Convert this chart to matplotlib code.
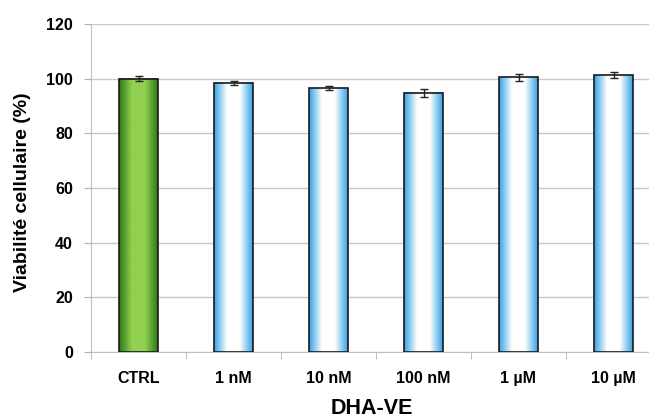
import numpy as np
import matplotlib
matplotlib.use("Agg")
import matplotlib.pyplot as plt
from matplotlib.colors import LinearSegmentedColormap

plt.rcParams['font.family'] = ['Liberation Sans', 'DejaVu Sans']

categories = ['CTRL', '1 nM', '10 nM', '100 nM', '1 µM', '10 µM']
viability = [100.0, 98.5, 96.5, 94.8, 100.5, 101.3]
errors = [0.8, 0.7, 0.7, 1.5, 1.2, 1.0]

green_cm = LinearSegmentedColormap.from_list('g', ['#2f7a17', '#92d050', '#92d050', '#2f7a17'])
blue_cm = LinearSegmentedColormap.from_list('b', ['#35a4e6', '#ffffff', '#ffffff', '#35a4e6'])

fig = plt.figure(figsize=(6.49, 4.18), dpi=100)
ax = fig.add_axes([91/649, 1 - 352/418, 570/649, 328/418])

x = np.arange(len(categories))
w = 0.41
grad = np.linspace(0, 1, 64).reshape(1, -1)
for i, (xi, v) in enumerate(zip(x, viability)):
    cm = green_cm if i == 0 else blue_cm
    ax.imshow(grad, cmap=cm, aspect='auto', extent=(xi - w/2, xi + w/2, 0, v),
              zorder=2, interpolation='bicubic')
    ax.add_patch(plt.Rectangle((xi - w/2, 0), w, v, fill=False,
                               edgecolor='#1a1a1a', lw=1.2, zorder=3))

ax.errorbar(x, viability, yerr=errors, fmt='none', ecolor='#222222',
            elinewidth=1, capsize=3, capthick=1, zorder=4)

ax.set_xlim(-0.5, len(categories) - 0.5)
ax.set_ylim(0, 120)
ax.set_yticks(np.arange(0, 121, 20))
ax.yaxis.grid(True, color='#c8c8c8', lw=1)
ax.set_axisbelow(True)

ax.set_xticks(x)
ax.set_xticklabels(categories, fontsize=11.5, fontweight='bold')
ax.set_xticks(np.arange(-0.5, len(categories), 1), minor=True)
ax.tick_params(axis='x', which='major', length=0, pad=14)
ax.tick_params(axis='x', which='minor', length=5, color='#b0b0b0')
ax.tick_params(axis='y', length=5, color='#b0b0b0', labelsize=11.5, pad=8)
for lab in ax.get_yticklabels():
    lab.set_fontweight('bold')

for s in ['top', 'right']:
    ax.spines[s].set_visible(False)
ax.spines['left'].set_color('#c0c0c0')
ax.spines['bottom'].set_color('#c0c0c0')

fig.text(23/649, 1 - 192/418, 'Viabilité cellulaire (%)', fontsize=14, fontweight='bold',
         rotation=90, ha='center', va='center')
fig.text(372/649, 1 - 408/418, 'DHA-VE', fontsize=15.5, fontweight='bold',
         ha='center', va='center')

fig.savefig('out.png', dpi=100)
